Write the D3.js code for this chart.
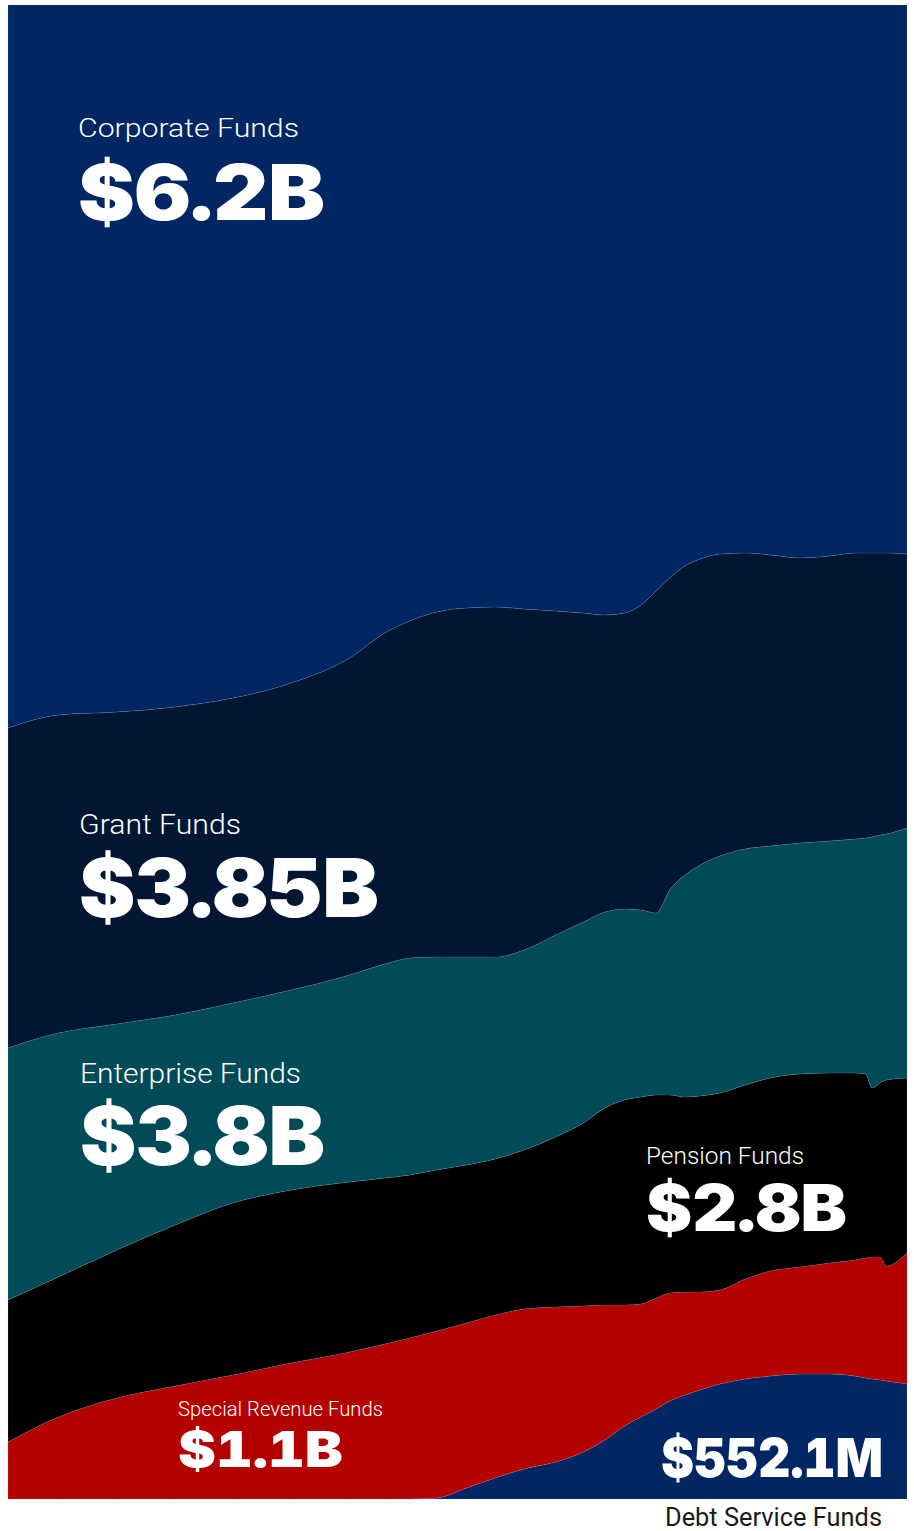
<!DOCTYPE html>
<html>
<head>
<meta charset="utf-8">
<script src="https://cdn.jsdelivr.net/npm/d3@7"></script>
<style>
  html, body { margin: 0; padding: 0; background: #ffffff; }
  svg { display: block; }
  .total { font-variant-numeric: tabular-nums; font-feature-settings: "tnum" 1; }
</style>
</head>
<body>
<svg id="chart" width="914" height="1531"></svg>
<script>
// Position along the timeline (0 = start, 100 = latest)
const periods = [0, 5.6, 12.1, 18.6, 25.0, 31.5, 38.0, 41.9, 44.7, 47.7, 51.0, 54.2, 57.4, 60.9, 64.0, 66.4,
  68.6, 70.4, 72.1, 73.6, 75.3, 77.0, 79.2, 82.0, 84.8, 88.1, 91.4, 94.2, 95.4, 96.1, 97.0, 97.7, 100];

// Share of the total (%) held by each fund type at each period
const debtService = [0, 0, 0, 0, 0, 0, 0, 0, 0, 0.07, 0.74, 1.41, 2.01, 2.48, 3.15, 3.95,
  4.89, 5.49, 6.02, 6.56, 6.96, 7.30, 7.70, 8.03, 8.23, 8.37, 8.37, 8.23, 8.10, 8.03, 7.97, 7.90, 7.70];
const specialRevenue = [3.82, 5.49, 6.76, 7.56, 8.30, 9.10, 9.84, 10.37, 10.78, 11.18, 11.04, 10.91, 10.71, 10.37, 9.77, 9.04,
  8.10, 7.56, 7.43, 7.23, 6.89, 6.56, 6.29, 6.69, 7.03, 7.16, 7.43, 7.76, 8.03, 8.17, 8.23, 7.70, 8.77];
const pension = [9.50, 9.37, 9.91, 10.78, 11.51, 11.58, 11.38, 11.11, 10.91, 10.78, 10.58, 10.44, 10.64, 11.38, 12.25, 13.19,
  13.72, 13.86, 13.59, 13.25, 13.05, 13.12, 13.19, 12.99, 12.92, 12.92, 12.72, 12.52, 12.32, 11.31, 11.65, 12.45, 11.71];
const enterprise = [16.87, 16.33, 15.13, 14.06, 13.39, 13.39, 13.86, 14.32, 14.52, 14.26, 13.92, 13.52, 13.39, 13.52, 13.45, 13.12,
  12.78, 12.52, 12.18, 13.72, 14.86, 15.46, 15.86, 15.80, 15.53, 15.46, 15.53, 15.66, 15.80, 16.80, 16.60, 16.47, 16.73];
const grant = [21.42, 21.29, 20.88, 20.62, 20.41, 20.55, 21.22, 22.16, 22.56, 23.09, 23.36, 23.43, 22.82, 21.69, 20.68, 19.88,
  19.81, 20.41, 21.55, 20.88, 20.68, 20.48, 20.21, 19.81, 19.48, 19.08, 19.08, 19.14, 19.08, 19.01, 18.88, 18.81, 18.34];
const corporate = [48.39, 47.52, 47.32, 46.99, 46.39, 45.38, 43.71, 42.03, 41.23, 40.63, 40.36, 40.29, 40.43, 40.56, 40.70, 40.83,
  40.70, 40.16, 39.22, 38.35, 37.55, 37.08, 36.75, 36.68, 36.81, 37.01, 36.88, 36.68, 36.68, 36.68, 36.68, 36.68, 36.75];

// Fund names (bottom layer first) and their headline totals
const fundKeys = ["Debt Service Funds", "Special Revenue Funds", "Pension Funds", "Enterprise Funds", "Grant Funds", "Corporate Funds"];
const fundTotals = ["$552.1M", "$1.1B", "$2.8B", "$3.8B", "$3.85B", "$6.2B"];
const fundColors = ["#002663", "#b50000", "#000000", "#004b57", "#011633", "#002663"];

const seriesByKey = {
  "Debt Service Funds": debtService,
  "Special Revenue Funds": specialRevenue,
  "Pension Funds": pension,
  "Enterprise Funds": enterprise,
  "Grant Funds": grant,
  "Corporate Funds": corporate
};

const rows = periods.map((p, i) => {
  const r = { period: p };
  fundKeys.forEach(k => { r[k] = seriesByKey[k][i]; });
  return r;
});

const svg = d3.select("#chart");
const plot = { left: 8, right: 907, top: 5, bottom: 1499 };

const x = d3.scaleLinear().domain([0, 100]).range([plot.left, plot.right]);
const y = d3.scaleLinear().domain([0, 1]).range([plot.bottom, plot.top]);

const stack = d3.stack()
  .keys(fundKeys)
  .order(d3.stackOrderNone)
  .offset(d3.stackOffsetExpand);
const layers = stack(rows);

const area = d3.area()
  .curve(d3.curveMonotoneX)
  .x(d => x(d.data.period))
  .y0(d => y(d[0]))
  .y1(d => y(d[1]));

const color = d3.scaleOrdinal().domain(fundKeys).range(fundColors);

svg.append("g")
  .selectAll("path")
  .data(layers)
  .join("path")
  .attr("d", area)
  .attr("fill", d => color(d.key))
  .attr("stroke", "rgba(160,190,230,0.25)")
  .attr("stroke-width", 0.6);

const nameFont = "Roboto, 'Liberation Sans', sans-serif";
const totalFont = "Inter, Roboto, 'Liberation Sans', sans-serif";

// Fund labels: name above, total below
const labelSpecs = [
  { key: "Corporate Funds", x: 78, nameY: 137, nameSize: 26, nameW: 221, totalY: 220, totalSize: 77, totalW: 247 },
  { key: "Grant Funds", x: 79, nameY: 834, nameSize: 27, nameW: 162, totalY: 917, totalSize: 81, totalW: 300 },
  { key: "Enterprise Funds", x: 80, nameY: 1083, nameSize: 27, nameW: 221, totalY: 1165, totalSize: 81, totalW: 245 },
  { key: "Pension Funds", x: 646, nameY: 1164, nameSize: 24, nameW: 158, totalY: 1231, totalSize: 64, totalW: 201 },
  { key: "Special Revenue Funds", x: 178, nameY: 1416, nameSize: 20, nameW: 205, totalY: 1467, totalSize: 49, totalW: 165 }
];

const labels = svg.append("g").attr("fill", "#ffffff");
labelSpecs.forEach(s => {
  const i = fundKeys.indexOf(s.key);
  labels.append("text")
    .attr("x", s.x).attr("y", s.nameY)
    .attr("font-family", nameFont)
    .attr("font-weight", 300)
    .attr("font-size", s.nameSize)
    .attr("textLength", s.nameW)
    .attr("lengthAdjust", "spacingAndGlyphs")
    .text(s.key);
  labels.append("text")
    .attr("class", "total")
    .attr("x", s.x).attr("y", s.totalY)
    .attr("font-family", totalFont)
    .attr("font-weight", 900)
    .attr("font-size", s.totalSize)
    .attr("textLength", s.totalW)
    .attr("lengthAdjust", "spacingAndGlyphs")
    .text(fundTotals[i]);
});

// Debt service: total inside the band, name below the chart
labels.append("text")
  .attr("class", "total")
  .attr("x", 661).attr("y", 1477)
  .attr("font-family", totalFont)
  .attr("font-weight", 900)
  .attr("font-size", 54)
  .attr("textLength", 222)
  .attr("lengthAdjust", "spacingAndGlyphs")
  .text(fundTotals[0]);

svg.append("text")
  .attr("x", 665).attr("y", 1526)
  .attr("fill", "#1a1a1a")
  .attr("font-family", nameFont)
  .attr("font-weight", 400)
  .attr("font-size", 25)
  .attr("textLength", 217)
  .attr("lengthAdjust", "spacingAndGlyphs")
  .text(fundKeys[0]);
</script>
</body>
</html>
